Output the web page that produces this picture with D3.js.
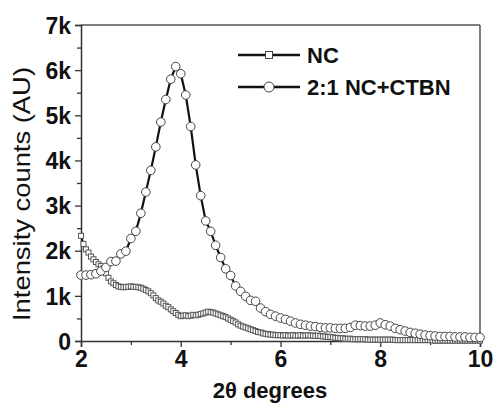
<!DOCTYPE html>
<html>
<head>
<meta charset="utf-8">
<script src="https://cdn.jsdelivr.net/npm/d3@7"></script>
<style>
  html, body { margin: 0; padding: 0; background: #fff; }
  svg { display: block; font-family: "Liberation Sans", Arial, sans-serif; }
</style>
</head>
<body>
<svg id="chart" width="493" height="403"></svg>
<script>
// ---- Data ----
const seriesNames = ["NC", "2:1 NC+CTBN"];

// NC: sampled every 0.05 degrees from 2.00 to 10.00 (intensity in counts)
const ncStart = 2.0, ncStep = 0.05;
const ncValues = [
  2330, 2150, 2030, 1960, 1870, 1810, 1750, 1700, 1660, 1610,
  1500, 1400, 1320, 1280, 1240, 1210, 1200, 1190, 1200, 1200,
  1210, 1200, 1200, 1190, 1180, 1160, 1130, 1100, 1060, 1010,
  950, 900, 870, 830, 780, 750, 700, 660, 620, 580,
  550, 560, 570, 550, 560, 580, 570, 580, 600, 610,
  630, 650, 640, 630, 610, 590, 570, 550, 530, 500,
  470, 440, 410, 370, 340, 320, 300, 280, 260, 240,
  220, 200, 190, 170, 160, 150, 140, 140, 130, 130,
  130, 120, 130, 120, 120, 130, 120, 120, 130, 120,
  120, 130, 120, 120, 110, 120, 110, 100, 100, 90,
  90, 80, 70, 70, 60, 60, 50, 50, 50, 40,
  40, 40, 40, 40, 40, 30, 30, 30, 30, 30,
  30, 30, 30, 30, 30, 30, 20, 20, 20, 20,
  20, 20, 20, 20, 20, 20, 20, 20, 20, 20,
  20, 10, 10, 10, 10, 10, 10, 10, 10, 10,
  10, 10, 10, 10, 10, 10, 10, 10, 10, 10,
  10
];

// 2:1 NC+CTBN: sampled every 0.1 degrees from 2.0 to 10.0
const blendStart = 2.0, blendStep = 0.1;
const blendValues = [
  1460, 1460, 1470, 1490, 1550, 1630, 1760, 1770, 1930, 1990,
  2270, 2430, 2830, 3300, 3780, 4300, 4850, 5350, 5800, 6080,
  5920, 5450, 4750, 3900, 3220, 2660, 2430, 2120, 1850, 1600,
  1450, 1220, 1100, 990, 900, 880, 730, 650, 590, 550,
  510, 480, 440, 400, 370, 350, 330, 320, 300, 290,
  290, 280, 280, 280, 300, 350, 340, 330, 330, 350,
  400, 360, 330, 280, 250, 220, 190, 170, 150, 130,
  120, 110, 100, 100, 100, 90, 90, 90, 80, 80,
  80
];

const xTicks = [2, 4, 6, 8, 10];
const xMinorTicks = [3, 5, 7, 9];
const yTicks = [0, 1000, 2000, 3000, 4000, 5000, 6000, 7000];
const yTickLabels = ["0", "1k", "2k", "3k", "4k", "5k", "6k", "7k"];
const yMinorTicks = [500, 1500, 2500, 3500, 4500, 5500, 6500];
const xTitle = "2θ degrees";
const yTitle = "Intensity counts (AU)";

// ---- Build ----
const ncData = ncValues.map((v, i) => ({ x: +(ncStart + i * ncStep).toFixed(2), y: v }));
const blendData = blendValues.map((v, i) => ({ x: +(blendStart + i * blendStep).toFixed(2), y: v }));

const svg = d3.select("#chart");
const L = 81, R = 480, T = 25, B = 341;
const x = d3.scaleLinear().domain([2, 10]).range([L, R]);
const y = d3.scaleLinear().domain([0, 7000]).range([B, T]);

const axisColor = "#333";

// frame top & right
svg.append("line").attr("x1", L).attr("x2", R).attr("y1", T).attr("y2", T)
  .attr("stroke", "#555").attr("stroke-width", 1.5);
svg.append("line").attr("x1", R).attr("x2", R).attr("y1", T).attr("y2", B)
  .attr("stroke", "#555").attr("stroke-width", 1.5);

// x axis
const gx = svg.append("g").attr("transform", `translate(0,${B})`);
gx.call(d3.axisBottom(x).tickValues(xTicks).tickSize(6).tickFormat(d3.format("d")));
const gxm = svg.append("g").attr("transform", `translate(0,${B})`);
gxm.call(d3.axisBottom(x).tickValues(xMinorTicks).tickSize(4).tickFormat(""));
gxm.select(".domain").remove();

// y axis
const gy = svg.append("g").attr("transform", `translate(${L},0)`);
gy.call(d3.axisLeft(y).tickValues(yTicks).tickSize(6).tickFormat((d, i) => yTickLabels[i]));
const gym = svg.append("g").attr("transform", `translate(${L},0)`);
gym.call(d3.axisLeft(y).tickValues(yMinorTicks).tickSize(4).tickFormat(""));
gym.select(".domain").remove();

svg.selectAll(".domain").attr("stroke", axisColor).attr("stroke-width", 1.5);
svg.selectAll(".tick line").attr("stroke", axisColor).attr("stroke-width", 1.3);
svg.selectAll(".tick text")
  .attr("fill", "#111")
  .style("font-family", "'Liberation Sans', Arial, sans-serif")
  .style("font-size", "23px")
  .style("font-weight", "bold");
gx.selectAll(".tick text").attr("y", 8).attr("dy", "0.8em");
gy.selectAll(".tick text").attr("x", -10).attr("dy", "0.36em");

// Titles
svg.append("text")
  .attr("x", 270).attr("y", 398)
  .attr("text-anchor", "middle")
  .style("font-size", "22px").style("font-weight", "bold").attr("fill", "#111")
  .text(xTitle);
svg.append("text")
  .attr("transform", "translate(30,194) rotate(-90)")
  .attr("text-anchor", "middle")
  .attr("textLength", 254).attr("lengthAdjust", "spacingAndGlyphs")
  .style("font-size", "24px").attr("fill", "#111")
  .text(yTitle);

// Lines
const line = d3.line().x(d => x(d.x)).y(d => y(d.y));
svg.append("path").datum(ncData).attr("d", line)
  .attr("fill", "none").attr("stroke", "#111").attr("stroke-width", 2);
svg.selectAll("rect.nc").data(ncData).enter().append("rect")
  .attr("class", "nc")
  .attr("x", d => x(d.x) - 2.5).attr("y", d => y(d.y) - 2.5)
  .attr("width", 5).attr("height", 5)
  .attr("fill", "#fff").attr("stroke", "#555").attr("stroke-width", 1);

svg.append("path").datum(blendData).attr("d", line)
  .attr("fill", "none").attr("stroke", "#111").attr("stroke-width", 2.2);
svg.selectAll("circle.bl").data(blendData).enter().append("circle")
  .attr("class", "bl")
  .attr("cx", d => x(d.x)).attr("cy", d => y(d.y)).attr("r", 4.3)
  .attr("fill", "#fff").attr("stroke", "#444").attr("stroke-width", 1);

// Legend
const legY = [55, 87];
const lg = svg.append("g");
seriesNames.forEach((name, i) => {
  lg.append("line").attr("x1", 238).attr("x2", 300).attr("y1", legY[i]).attr("y2", legY[i])
    .attr("stroke", "#111").attr("stroke-width", 2.5);
  if (i === 0) {
    lg.append("rect").attr("x", 265.5).attr("y", legY[i] - 3.5).attr("width", 7).attr("height", 7)
      .attr("fill", "#fff").attr("stroke", "#444").attr("stroke-width", 1);
  } else {
    lg.append("circle").attr("cx", 269).attr("cy", legY[i]).attr("r", 5)
      .attr("fill", "#fff").attr("stroke", "#444").attr("stroke-width", 1);
  }
  lg.append("text").attr("x", 307).attr("y", legY[i]).attr("dy", "0.36em")
    .style("font-size", "22px").style("font-weight", "bold").attr("fill", "#111")
    .text(name);
});
</script>
</body>
</html>
